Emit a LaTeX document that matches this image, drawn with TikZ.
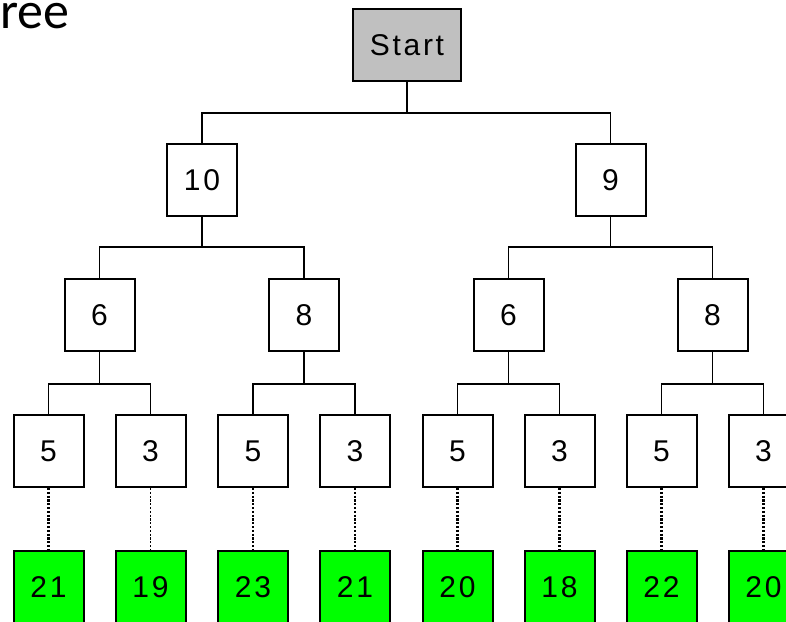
\documentclass[tikz,border=0pt]{standalone}
\usepackage{fontspec}
\setmainfont{Liberation Sans}
\newfontfamily\boxfont[LetterSpace=9]{Liberation Sans}
\newfontfamily\titlefont{Carlito}
\definecolor{startgray}{HTML}{C0C0C0}
\definecolor{leafgreen}{HTML}{00FF00}
\begin{document}
\begin{tikzpicture}[x=1pt,y=-1pt,
  treebox/.style={draw=black, line width=2pt, fill=white, minimum width=70pt,
    minimum height=72pt, inner sep=0pt, font=\boxfont\fontsize{30}{30}\selectfont},
  startbox/.style={treebox, fill=startgray, minimum width=108pt},
  leafbox/.style={treebox, fill=leafgreen},
  branch/.style={line width=1.8pt},
  link/.style={line width=2.6pt, dash pattern=on 2.2pt off 1.6pt},
  thinlink/.style={line width=1.1pt, dash pattern=on 2.2pt off 1.6pt}]
\useasboundingbox (0,0) rectangle (786,621);

% heading (partly off the left edge)
\node[anchor=base west, inner sep=0pt, font=\titlefont\fontsize{52}{52}\selectfont] (title) at (0,28) {ree};

% levels of the tree
\node[startbox] (s) at (407,45) {Start};

\node[treebox] (a) at (202,180) {10};
\node[treebox] (b) at (610.5,180) {9};

\node[treebox] (a1) at (99.5,315) {6};
\node[treebox] (a2) at (304,315) {8};
\node[treebox] (b1) at (508.5,315) {6};
\node[treebox] (b2) at (712.5,315) {8};

\node[treebox] (c1) at (48.5,451) {5};
\node[treebox] (c2) at (150.5,451) {3};
\node[treebox] (c3) at (253,451) {5};
\node[treebox] (c4) at (355,451) {3};
\node[treebox] (c5) at (457.5,451) {5};
\node[treebox] (c6) at (559.5,451) {3};
\node[treebox] (c7) at (661.5,451) {5};
\node[treebox] (c8) at (763.5,451) {3};

\node[leafbox] (d1) at (48.5,587) {21};
\node[leafbox] (d2) at (150.5,587) {19};
\node[leafbox] (d3) at (253,587) {23};
\node[leafbox] (d4) at (355,587) {21};
\node[leafbox] (d5) at (457.5,587) {20};
\node[leafbox] (d6) at (559.5,587) {18};
\node[leafbox] (d7) at (661.5,587) {22};
\node[leafbox] (d8) at (763.5,587) {20};

% heights of the horizontal bars
\coordinate (bar0) at (0,113);
\coordinate (bar1) at (0,247);
\coordinate (bar2) at (0,384);

% branches: parent down to the bar, bar across to both children
\draw[branch] (s.south) -- (s.south |- bar0);
\draw[branch] (a.north) |- (b.north |- bar0) -- (b.north);

\draw[branch] (a.south) -- (a.south |- bar1);
\draw[branch] (a1.north) |- (a2.north |- bar1) -- (a2.north);
\draw[branch] (b.south) -- (b.south |- bar1);
\draw[branch] (b1.north) |- (b2.north |- bar1) -- (b2.north);

\draw[branch] (a1.south) -- (a1.south |- bar2);
\draw[branch] (c1.north) |- (c2.north |- bar2) -- (c2.north);
\draw[branch] (a2.south) -- (a2.south |- bar2);
\draw[branch] (c3.north) |- (c4.north |- bar2) -- (c4.north);
\draw[branch] (b1.south) -- (b1.south |- bar2);
\draw[branch] (c5.north) |- (c6.north |- bar2) -- (c6.north);
\draw[branch] (b2.south) -- (b2.south |- bar2);
\draw[branch] (c7.north) |- (c8.north |- bar2) -- (c8.north);

% dotted links down to the leaf values
\draw[link] (c1.south) -- (d1.north);
\draw[thinlink] (c2.south) -- (d2.north);
\draw[link] (c3.south) -- (d3.north);
\draw[link] (c4.south) -- (d4.north);
\draw[link] (c5.south) -- (d5.north);
\draw[link] (c6.south) -- (d6.north);
\draw[link] (c7.south) -- (d7.north);
\draw[link] (c8.south) -- (d8.north);
\end{tikzpicture}
\end{document}
